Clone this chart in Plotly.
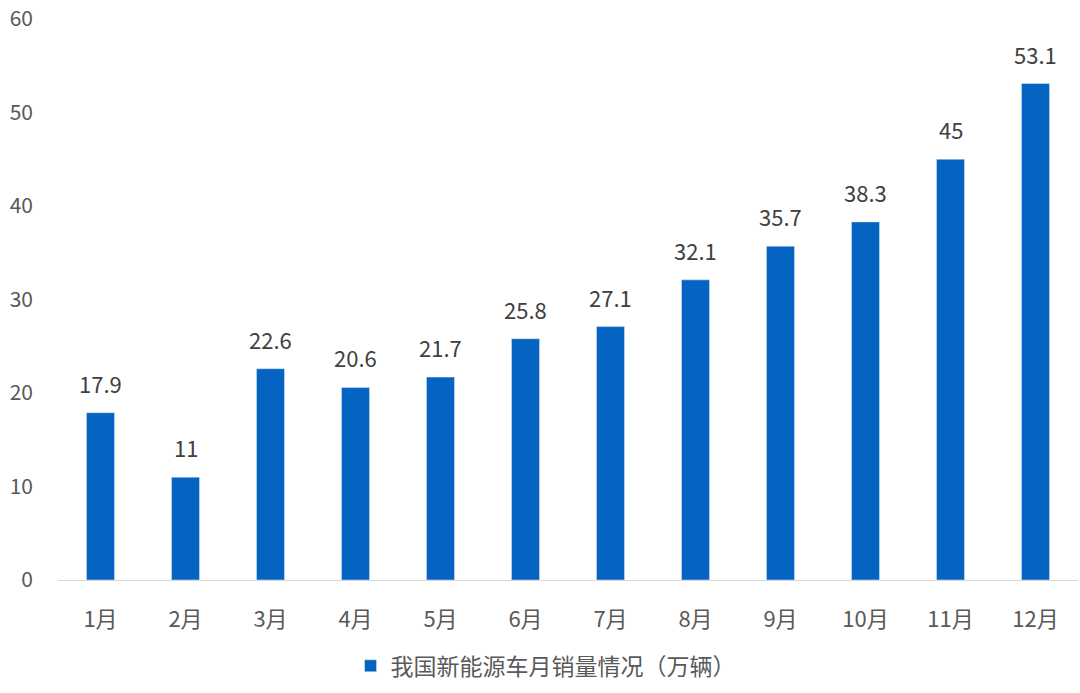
import plotly.graph_objects as go

months = ["1月", "2月", "3月", "4月", "5月", "6月", "7月", "8月", "9月", "10月", "11月", "12月"]
sales = [17.9, 11, 22.6, 20.6, 21.7, 25.8, 27.1, 32.1, 35.7, 38.3, 45, 53.1]
series_name = "我国新能源车月销量情况（万辆）"
y_ticks = [0, 10, 20, 30, 40, 50, 60]

FONT = "Noto Sans CJK SC"

fig = go.Figure(
    go.Bar(
        x=months,
        y=sales,
        name=series_name,
        marker_color="#0563C1",
        cliponaxis=False,
    )
)

for m, v in zip(months, sales):
    fig.add_annotation(
        x=m,
        y=v,
        xref="x",
        yref="y",
        text=f"{v:g}",
        showarrow=False,
        yanchor="bottom",
        yshift=12,
        font=dict(family=FONT, size=22, color="#404040"),
    )

fig.update_layout(
    width=1080,
    height=693,
    margin=dict(l=58, r=2, t=17, b=113),
    paper_bgcolor="white",
    plot_bgcolor="white",
    bargap=0.67,
    showlegend=True,
    font=dict(family=FONT, color="#595959"),
    legend=dict(
        orientation="h",
        x=0.478,
        xanchor="center",
        y=-0.153,
        yanchor="middle",
        font=dict(family=FONT, size=23, color="#595959"),
    ),
    xaxis=dict(
        showline=True,
        linecolor="#D9D9D9",
        linewidth=1,
        showgrid=False,
        ticks="",
        tickfont=dict(family=FONT, size=22, color="#595959"),
        ticklabelstandoff=20,
    ),
    yaxis=dict(
        range=[0, 60],
        tickvals=y_ticks,
        showgrid=False,
        zeroline=False,
        showline=False,
        ticks="",
        tickfont=dict(family=FONT, size=21, color="#595959"),
        ticklabelstandoff=24,
    ),
)

fig.write_html("out.html")
